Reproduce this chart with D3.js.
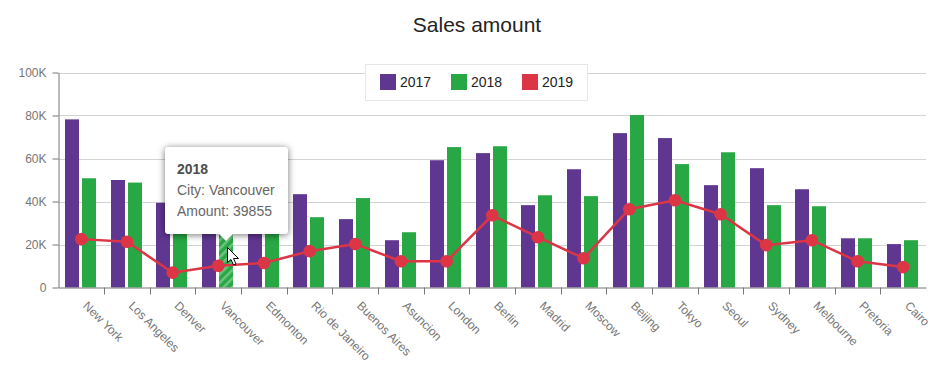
<!DOCTYPE html>
<html lang="en">
<head>
   <meta charset="UTF-8">
   <title>Sales amount</title>
   <script src="https://cdn.jsdelivr.net/npm/d3@7"></script>
   <style>
      html, body {
         margin: 0;
         background: white;
         overflow: hidden;
      }

      #chart {
         position: relative;
         width: 950px;
         height: 368px;
      }

      svg {
         display: block;
         font-family: "Liberation Sans", Arial, sans-serif;
      }

      #tooltip {
         position: absolute;
         left: 165px;
         top: 147px;
         width: 123px;
         height: 87px;
         box-sizing: border-box;
         padding: 12px 12px;
         background: white;
         border-radius: 3px;
         box-shadow: 0 1px 7px rgba(0, 0, 0, 0.55);
         font: 14px/21px "Liberation Sans", Arial, sans-serif;
         color: #666;
         white-space: nowrap;
      }

      #tooltip b {
         color: #4d4d4d;
      }

      #tooltip i {
         position: absolute;
         left: 54px;
         top: 87px;
         width: 0;
         height: 0;
         border-left: 7px solid transparent;
         border-right: 7px solid transparent;
         border-top: 7px solid white;
      }
   </style>
</head>
<body>
   <div id="chart"></div>
   <script>
      const cities = ['New York', 'Los Angeles', 'Denver', 'Vancouver', 'Edmonton', 'Rio de Janeiro', 'Buenos Aires', 'Asuncion', 'London', 'Berlin', 'Madrid', 'Moscow', 'Beijing', 'Tokyo', 'Seoul', 'Sydney', 'Melbourne', 'Pretoria', 'Cairo']
      const sales2017 = [78200, 50000, 39400, 44000, 41000, 43400, 31800, 22000, 59200, 62500, 38300, 55000, 71800, 69500, 47600, 55500, 45700, 22900, 20200]
      const sales2018 = [50800, 48800, 37000, 39855, 35000, 32700, 41600, 25700, 65300, 65700, 42900, 42500, 80200, 57400, 62900, 38300, 37800, 22900, 22000]
      const sales2019 = [22500, 21300, 6900, 10100, 11400, 16900, 20200, 12200, 12200, 33600, 23400, 13600, 36400, 40600, 34100, 19700, 22000, 12200, 9500]
      const yTicks = [0, 20000, 40000, 60000, 80000, 100000]
      const years = ['2017', '2018', '2019']
      const colors = ['#5f3791', '#28a745', '#dc3545']

      const WIDTH = 950
      const HEIGHT = 368
      const margin = { top: 72.5, right: 24, bottom: 80.5, left: 58.5 }

      const svg = d3.select('#chart').append('svg')
         .attr('width', WIDTH)
         .attr('height', HEIGHT)

      // scales
      const xScale = d3.scaleBand()
         .domain(cities)
         .range([margin.left, WIDTH - margin.right])

      const yScale = d3.scaleLinear()
         .domain([0, 100000])
         .range([HEIGHT - margin.bottom, margin.top])

      // two bars side by side in each band, the line runs through the middle
      const xSub = d3.scaleBand()
         .domain(['2017', '2018'])
         .range([0, 31])
         .paddingInner(3 / 17)

      // hatch for the hovered bar
      const hatch = svg.append('defs').append('pattern')
         .attr('id', 'hatch')
         .attr('width', 6)
         .attr('height', 6)
         .attr('patternUnits', 'userSpaceOnUse')
         .attr('patternTransform', 'rotate(45)')
      hatch.append('rect').attr('width', 6).attr('height', 6).attr('fill', colors[1])
      hatch.append('rect').attr('width', 2.5).attr('height', 6).attr('fill', '#6cc483')

      // grid
      svg.append('g').selectAll('line')
         .data(yTicks.slice(1))
         .enter()
         .append('line')
            .attr('x1', margin.left)
            .attr('x2', WIDTH - margin.right)
            .attr('y1', d => Math.round(yScale(d)) + 0.5)
            .attr('y2', d => Math.round(yScale(d)) + 0.5)
            .attr('stroke', '#d3d3d3')

      // bars
      const bars = [sales2017, sales2018]
      bars.forEach((values, s) => {
         svg.append('g').selectAll('rect')
            .data(values)
            .enter()
            .append('rect')
               .attr('x', (_, i) => Math.round(xScale(cities[i]) + 6.4 + xSub(years[s])))
               .attr('y', d => yScale(d))
               .attr('width', 14)
               .attr('height', d => yScale(0) - yScale(d))
               .attr('fill', (_, i) => s === 1 && cities[i] === 'Vancouver' ? 'url(#hatch)' : colors[s])
      })

      // axes
      const xAxis = d3.axisBottom(xScale).tickSize(0).tickPadding(0)
      const xAxisGroup = svg.append('g')
         .attr('transform', `translate(0, ${yScale(0)})`)
         .call(xAxis)
      xAxisGroup.select('.domain').attr('stroke', '#767676')
      xAxisGroup.selectAll('text')
         .attr('y', 0)
         .attr('dy', 0)
         .attr('transform', 'translate(1, 19) rotate(45)')
         .attr('text-anchor', 'start')
         .attr('fill', '#767676')
         .attr('font-size', 12)
         .attr('font-family', '"Liberation Sans", Arial, sans-serif')

      // ticks sit between the bands, not on their centres
      xAxisGroup.append('g').selectAll('line')
         .data(cities.slice(1))
         .enter()
         .append('line')
            .attr('x1', d => Math.round(xScale(d)) + 0.5)
            .attr('x2', d => Math.round(xScale(d)) + 0.5)
            .attr('y1', 0)
            .attr('y2', 7)
            .attr('stroke', '#767676')

      const yAxis = d3.axisLeft(yScale)
         .tickValues(yTicks)
         .tickSize(6)
         .tickSizeOuter(0)
         .tickPadding(6)
         .tickFormat(d => d === 0 ? '0' : `${d / 1000}K`)
      const yAxisGroup = svg.append('g')
         .attr('transform', `translate(${margin.left}, 0)`)
         .call(yAxis)
      yAxisGroup.selectAll('line, .domain').attr('stroke', '#767676')
      yAxisGroup.selectAll('text')
         .attr('fill', '#767676')
         .attr('font-size', 12)
         .attr('font-family', '"Liberation Sans", Arial, sans-serif')

      // line series
      const line = d3.line()
         .x((_, i) => xScale(cities[i]) + xScale.bandwidth() / 2)
         .y(d => yScale(d))

      svg.append('path')
         .datum(sales2019)
         .attr('d', line)
         .attr('fill', 'none')
         .attr('stroke', colors[2])
         .attr('stroke-width', 2.5)

      svg.append('g').selectAll('circle')
         .data(sales2019)
         .enter()
         .append('circle')
            .attr('cx', (_, i) => xScale(cities[i]) + xScale.bandwidth() / 2)
            .attr('cy', d => yScale(d))
            .attr('r', 6.3)
            .attr('fill', colors[2])

      // title
      svg.append('text')
         .attr('x', 477)
         .attr('y', 32)
         .attr('text-anchor', 'middle')
         .attr('font-size', 21)
         .attr('fill', '#232323')
         .text('Sales amount')

      // legend
      const legend = svg.append('g')
      legend.append('rect')
         .attr('x', 365.5)
         .attr('y', 64.5)
         .attr('width', 222)
         .attr('height', 36)
         .attr('fill', 'white')
         .attr('stroke', '#e6e6e6')

      const legendItems = legend.selectAll('g')
         .data(years)
         .enter()
         .append('g')
            .attr('transform', (_, i) => `translate(${380 + i * 71}, 74)`)

      legendItems.append('rect')
         .attr('width', 16)
         .attr('height', 16)
         .attr('fill', (_, i) => colors[i])

      legendItems.append('text')
         .attr('x', 20)
         .attr('y', 13)
         .attr('font-size', 14)
         .attr('fill', '#232323')
         .text(d => d)

      // tooltip
      d3.select('#chart').append('div')
         .attr('id', 'tooltip')
         .html(`<b>${years[1]}</b><br>City: ${cities[3]}<br>Amount: ${sales2018[3]}<i></i>`)

      // mouse pointer from the screenshot
      d3.select('#chart').append('svg')
         .style('position', 'absolute')
         .style('left', '227px')
         .style('top', '247px')
         .attr('width', 16)
         .attr('height', 20)
         .append('path')
            .attr('d', 'M0.5 0.5V15.5L4 12.5L6.5 18L9 17L6.5 11.5H11.5Z')
            .attr('fill', 'white')
            .attr('stroke', 'black')
   </script>
</body>
</html>
